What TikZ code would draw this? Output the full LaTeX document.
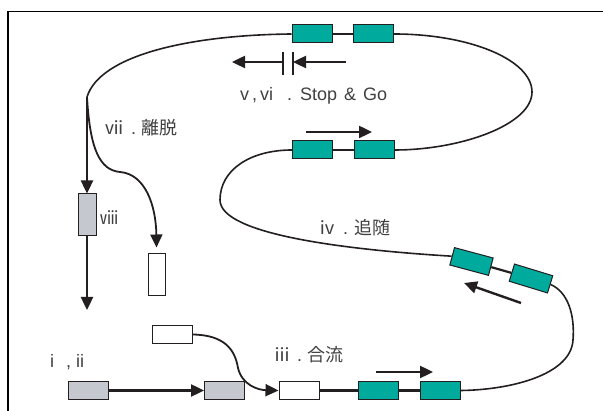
\documentclass[tikz,border=0pt]{standalone}
\usepackage{fontspec}
\setmainfont{Liberation Sans}
\newfontfamily\jpfont{Noto Sans CJK JP}
\usetikzlibrary{arrows.meta}
\definecolor{carteal}{RGB}{0,170,157}
\definecolor{cargrey}{RGB}{197,200,206}
\definecolor{ink}{RGB}{35,31,32}
\definecolor{labelgrey}{RGB}{64,64,64}

\begin{document}
\begin{tikzpicture}[x=1pt,y=-1pt,
    car/.style={draw=ink,line width=1pt,minimum width=40pt,minimum height=18pt,inner sep=0pt},
    tealcar/.style={car,fill=carteal},
    greycar/.style={car,fill=cargrey},
    whitecar/.style={car,fill=white},
    road/.style={draw=ink,line width=1.6pt},
    link/.style={draw=ink,line width=2.2pt},
    dirarrow/.style={draw=ink,line width=2.4pt,-{Triangle[length=13pt,width=12pt]}},
    lbl/.style={text=labelgrey,inner sep=0pt,anchor=west,font=\fontsize{18}{20}\selectfont}]
  \useasboundingbox (0,0) rectangle (603,411);
  \draw[line width=1.3pt] (8,411) -- (8,11.5) -- (603,11.5);
  % cars
  \node[tealcar] (t1) at (312,34) {};
  \node[tealcar] (t2) at (373.5,34) {};
  \node[tealcar] (m1) at (312.5,150) {};
  \node[tealcar] (m2) at (374,150) {};
  \node[tealcar,rotate=-15] (tA) at (471.5,261.5) {};
  \node[tealcar,rotate=-17] (tB) at (531,278.5) {};
  \node[whitecar] (w) at (299,390.5) {};
  \node[tealcar] (b1) at (378.5,390.5) {};
  \node[tealcar] (b2) at (440,390.5) {};
  \node[greycar] (g1) at (88.5,390.5) {};
  \node[greycar] (g2) at (224.5,390.5) {};
  \node[whitecar] (wtop) at (172,334.5) {};
  \node[whitecar,minimum width=17pt,minimum height=42pt] (wv) at (156.5,275) {};
  \node[greycar,minimum width=18pt,minimum height=42pt] (gv) at (87,215) {};
  \coordinate (split) at (87,97);
  \coordinate (exit) at (87,310);
  % couplings
  \draw[link] (t1) -- (t2);
  \draw[link] (m1) -- (m2);
  \draw[link] (tA) -- (tB);
  \draw[link] (w) -- (b1);
  \draw[link] (b1) -- (b2);
  % roads
  \draw[road] (t1.west) .. controls (190,35) and (100,55) .. (split);
  \draw[road] (t2.east) .. controls (470,34) and (532,60) .. (532,92)
    .. controls (532,125) and (460,150) .. (m2.east);
  \draw[road] (m1.west) .. controls (250,150) and (220,170) .. (220,200)
    .. controls (220,235) and (350,250) .. (tA.west);
  \draw[road] (tB.east) .. controls (568,292) and (575,315) .. (573,340)
    .. controls (571,375) and (510,390) .. (b2.east);
  \draw[dirarrow,line width=1.8pt] (wtop.east) .. controls (225,335) and (235,350) .. (238,368)
    .. controls (242,385) and (258,390) .. (w.west);
  \draw[dirarrow,line width=1.8pt] (split) .. controls (90,150) and (100,170) .. (120,172)
    .. controls (145,174) and (156,205) .. ([yshift=6pt]wv.north);
  \draw[dirarrow] (split) -- (gv.north);
  \draw[dirarrow] (gv.south) -- (exit);
  \draw[dirarrow] (g1.east) -- (g2.west);
  % direction of travel
  \draw[link] (283,52) -- (283,75);
  \draw[link] (293,52) -- (293,75);
  \draw[dirarrow] (283,62) -- (232,62);
  \draw[dirarrow] (346,62) -- (293,62);
  \draw[dirarrow] (306,132) -- (372,132);
  \draw[dirarrow] (521,303) -- (464,283);
  \draw[dirarrow] (376,372) -- (433,372);
  % labels
  \node[lbl] (lstop) at (240,96) {v\,,\,vi\hspace{14pt}.\hspace{8pt}Stop\hspace{7pt}\&\hspace{7pt}Go};
  \node[lbl] (lleave) at (105,128) {{\jpfont ⅶ}\hspace{8pt}.\hspace{5pt}{\jpfont 離脱}};
  \node[lbl] (lviii) at (100,218) {\jpfont ⅷ};
  \node[lbl] (lfollow) at (318,228) {{\jpfont ⅳ}\hspace{7pt}.\hspace{6pt}{\jpfont 追随}};
  \node[lbl] (lmerge) at (273,355) {{\jpfont ⅲ}\hspace{6pt}.\hspace{5pt}{\jpfont 合流}};
  \node[lbl] (lstart) at (50,362) {i\hspace{12pt},\hspace{5pt}ii};
\end{tikzpicture}
\end{document}
